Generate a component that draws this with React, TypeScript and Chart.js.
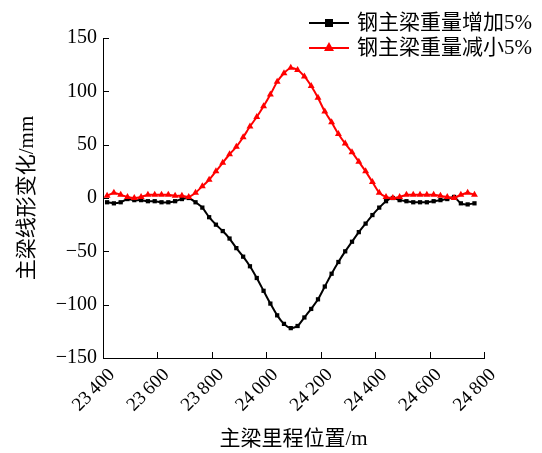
import React, { useEffect, useRef } from "react";
import { Chart, registerables } from "chart.js";

Chart.register(...registerables);

const xPositions = [
  23415, 23440, 23465, 23490, 23515, 23540, 23565, 23590, 23615, 23640, 23665,
  23690, 23715, 23740, 23765, 23790, 23815, 23840, 23865, 23890, 23915, 23940,
  23965, 23990, 24015, 24040, 24065, 24090, 24115, 24140, 24165, 24190, 24215,
  24240, 24265, 24290, 24315, 24340, 24365, 24390, 24415, 24440, 24465, 24490,
  24515, 24540, 24565, 24590, 24615, 24640, 24665, 24690, 24715, 24740, 24765,
];

const increaseValues = [
  -4, -5, -4, -1, -2, -2, -3, -3, -4, -4, -3, -1, 0, -4, -9, -18, -25, -31, -38,
  -47, -55, -64, -75, -87, -99, -110, -118, -122, -120, -112, -104, -95, -83,
  -71, -60, -50, -41, -32, -24, -16, -9, -3, 0, -2, -3, -4, -4, -4, -3, -2, -1,
  1, -5, -6, -5,
];

const decreaseValues = [
  2, 5, 3, 1, 0, 1, 3, 3, 3, 3, 2, 2, 1, 5, 11, 17, 25, 33, 41, 48, 57, 67, 76,
  86, 97, 109, 117, 122, 120, 114, 105, 94, 81, 71, 60, 51, 43, 34, 25, 15, 5,
  1, 0, 1, 3, 3, 3, 3, 3, 2, 1, 0, 3, 5, 3,
];

const seriesNames = ["钢主梁重量增加5%", "钢主梁重量减小5%"];
const xTitle = "主梁里程位置/m";
const yTitle = "主梁线形变化/mm";
const xTicks = [23400, 23600, 23800, 24000, 24200, 24400, 24600, 24800];
const yTicks = [-150, -100, -50, 0, 50, 100, 150];

const FONT = '"Liberation Serif", "Times New Roman", "Noto Sans CJK SC", serif';

const innerTicks = {
  id: "innerTicks",
  afterDraw(chart: any) {
    const ctx = chart.ctx;
    const xs = chart.scales.x;
    const ys = chart.scales.y;
    ctx.save();
    ctx.strokeStyle = "#000";
    ctx.lineWidth = 1;
    ctx.beginPath();
    for (const v of xTicks) {
      const px = Math.round(xs.getPixelForValue(v)) + 0.5;
      ctx.moveTo(px, ys.bottom);
      ctx.lineTo(px, ys.bottom - 6);
    }
    for (const v of yTicks) {
      const py = Math.round(ys.getPixelForValue(v)) + 0.5;
      ctx.moveTo(xs.left, py);
      ctx.lineTo(xs.left + 6, py);
    }
    ctx.stroke();
    ctx.restore();
  },
};

const customLegend = {
  id: "customLegend",
  afterDraw(chart: any) {
    const ctx = chart.ctx;
    ctx.save();
    const items = [
      { y: 23, color: "#000", shape: "rect" },
      { y: 48, color: "#ff0000", shape: "triangle" },
    ];
    items.forEach((it, i) => {
      ctx.strokeStyle = it.color;
      ctx.fillStyle = it.color;
      ctx.lineWidth = 2;
      ctx.beginPath();
      ctx.moveTo(309, it.y);
      ctx.lineTo(349, it.y);
      ctx.stroke();
      ctx.beginPath();
      if (it.shape === "rect") {
        ctx.rect(325, it.y - 4, 8, 8);
      } else {
        ctx.moveTo(329, it.y - 6);
        ctx.lineTo(334, it.y + 3);
        ctx.lineTo(324, it.y + 3);
        ctx.closePath();
      }
      ctx.fill();
      ctx.fillStyle = "#000";
      ctx.font = "21px " + FONT;
      ctx.textBaseline = "middle";
      ctx.textAlign = "left";
      ctx.fillText(seriesNames[i], 357, it.y);
    });
    ctx.restore();
  },
};

export default function App() {
  const ref = useRef<HTMLCanvasElement>(null);
  useEffect(() => {
    if (!ref.current) return;
    const chart = new Chart(ref.current, {
      type: "line",
      data: {
        datasets: [
          {
            label: seriesNames[0],
            data: xPositions.map((x, i) => ({ x, y: increaseValues[i] })),
            borderColor: "#000",
            backgroundColor: "#000",
            borderWidth: 2,
            pointStyle: "rect",
            pointRadius: 3,
            pointBorderWidth: 0,
            tension: 0.2,
            order: 1,
          },
          {
            label: seriesNames[1],
            data: xPositions.map((x, i) => ({ x, y: decreaseValues[i] })),
            borderColor: "#ff0000",
            backgroundColor: "#ff0000",
            borderWidth: 2,
            pointStyle: "triangle",
            pointRadius: 4,
            pointBorderWidth: 0,
            tension: 0.2,
            order: 0,
          },
        ],
      },
      options: {
        animation: false,
        responsive: true,
        maintainAspectRatio: false,
        layout: { padding: { left: 0, top: 38, right: 58, bottom: 0 } },
        plugins: { legend: { display: false }, tooltip: { enabled: false } },
        scales: {
          x: {
            type: "linear",
            min: 23400,
            max: 24800,
            afterBuildTicks: (s: any) => {
              s.ticks = xTicks.map((v) => ({ value: v }));
            },
            afterFit: (s: any) => {
              s.height = 95;
            },
            grid: { display: false, drawTicks: false },
            border: { display: true, color: "#000", width: 1 },
            ticks: {
              maxRotation: 45,
              minRotation: 45,
              color: "#000",
              padding: 6,
              labelOffset: 9,
              font: { family: FONT, size: 19 },
              callback: (v: any) =>
                String(v).replace(/(\d{2})(\d{3})/, "$1\u2009$2"),
            },
            title: {
              display: true,
              text: xTitle,
              color: "#000",
              font: { family: FONT, size: 21 },
              padding: { top: 0, bottom: 1 },
            },
          },
          y: {
            min: -150,
            max: 150,
            afterBuildTicks: (s: any) => {
              s.ticks = yTicks.map((v) => ({ value: v }));
            },
            afterFit: (s: any) => {
              s.width = 103;
            },
            grid: { display: false, drawTicks: false },
            border: { display: true, color: "#000", width: 1 },
            ticks: {
              color: "#000",
              padding: 6,
              font: { family: FONT, size: 20 },
              callback: (v: any) => String(v).replace("-", "\u2212"),
            },
            title: {
              display: true,
              text: yTitle,
              color: "#000",
              font: { family: FONT, size: 21 },
              padding: { top: 15, bottom: 0 },
            },
          },
        },
      },
      plugins: [innerTicks, customLegend],
    });
    return () => chart.destroy();
  }, []);
  return (
    <div
      style={{
        position: "fixed",
        left: 0,
        top: 0,
        width: 542,
        height: 453,
        background: "#fff",
      }}
    >
      <canvas ref={ref} />
    </div>
  );
}
